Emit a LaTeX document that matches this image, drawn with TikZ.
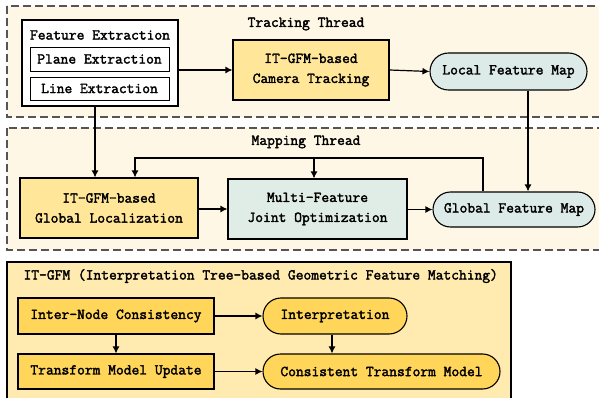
\documentclass[tikz,border=0pt]{standalone}
\usepackage{fontspec}
\usetikzlibrary{arrows.meta,shapes.misc,calc}
\newfontfamily\dfont[FakeBold=2.2]{Latin Modern Mono}
\definecolor{threadbg}{HTML}{FFF7E6}
\definecolor{gfmbg}{HTML}{FFEAB0}
\definecolor{lightgold}{HTML}{FFE699}
\definecolor{gold}{HTML}{FFD55A}
\definecolor{mapblue}{HTML}{DDEBE8}
\definecolor{optgreen}{HTML}{E0ECE6}
\definecolor{dashgray}{HTML}{555555}
\tikzset{
  txt/.style={font=\dfont\fontsize{15.1}{20}\selectfont, align=center, text=black},
  box/.style={txt, draw=black, line width=1.1pt, rectangle, inner sep=0pt},
  pill/.style={txt, draw=black, line width=1.1pt, rounded rectangle, inner sep=0pt},
  arr/.style={line width=1.2pt, -{Latex[length=7pt,width=7pt]}},
  thread/.style={draw=dashgray, line width=1.1pt, dash pattern=on 8pt off 4pt, fill=threadbg}
}
\begin{document}
\begin{tikzpicture}[x=1pt,y=-1pt]
\useasboundingbox (0,0) rectangle (599,398);
\begin{scope}
\clip (0,0) rectangle (599,398);
\path[thread] (7,6) rectangle (610,117);
\path[thread] (7,128) rectangle (610,250);
\path[draw=black, line width=1.1pt, fill=gfmbg] (7,262) rectangle (511,410);
\end{scope}

\node[txt] (tt) at (306,24) {Tracking Thread};
\node[txt] (mt) at (306,142) {Mapping Thread};
\node[txt, anchor=west] (gt) at (20,276) {IT-GFM (Interpretation Tree-based Geometric Feature Matching)};

% Feature extraction
\node[box, fill=white, minimum width=156pt, minimum height=86pt] (fe) at (100,63) {};
\node[txt] (fet) at (100,35) {Feature Extraction};
\node[box, fill=white, minimum width=139pt, minimum height=24pt, line width=0.8pt] (pe) at (99.5,59) {Plane Extraction};
\node[box, fill=white, minimum width=139pt, minimum height=23pt, line width=0.8pt] (le) at (99.5,88.5) {Line Extraction};

\node[box, fill=lightgold, minimum width=156pt, minimum height=60pt] (ct) at (311,70) {IT-GFM-based\\Camera Tracking};
\node[pill, fill=mapblue, minimum width=157pt, minimum height=37pt] (lfm) at (508.5,71.5) {Local Feature Map};

\node[box, fill=lightgold, minimum width=178pt, minimum height=60pt] (gl) at (109,208) {IT-GFM-based\\Global Localization};
\node[box, fill=optgreen, minimum width=179pt, minimum height=60pt] (mf) at (317.5,209) {Multi-Feature\\Joint Optimization};
\node[pill, fill=mapblue, minimum width=162pt, minimum height=35pt] (gfm) at (514,209.5) {Global Feature Map};

\node[box, fill=gold, minimum width=196pt, minimum height=36pt] (inc) at (116,316) {Inter-Node Consistency};
\node[box, fill=gold, minimum width=196pt, minimum height=35pt] (tmu) at (116,371.5) {Transform Model Update};
\node[pill, fill=gold, minimum width=144pt, minimum height=36pt] (int) at (335,316) {Interpretation};
\node[pill, fill=gold, minimum width=237pt, minimum height=35pt] (ctm) at (381.5,371.5) {Consistent Transform Model};

% connectors
\draw[arr] (fe.east |- ct.west) -- (ct.west);
\draw[arr] (ct.east) -- (lfm.west);
\draw[arr] ([xshift=-5pt]fe.south) -- ([xshift=-5pt]fe.south |- gl.north);
\draw[arr] ([xshift=19.5pt]lfm.south) -- ([xshift=19.5pt]lfm.south |- gfm.north);
\draw[arr] (gl.east |- mf.west) -- (mf.west);
\draw[arr] (mf.east |- gfm.west) -- (gfm.west);
\coordinate (fbtop) at (0,158);
\draw[arr] ([xshift=-31pt]gfm.north) |- ([xshift=26pt]gl.north |- fbtop) -- ([xshift=26pt]gl.north);
\draw[arr] ([xshift=-3.5pt]mf.north |- fbtop) -- ([xshift=-3.5pt]mf.north);

\draw[arr] (inc.east) -- (int.west);
\draw[arr] (tmu.east) -- (ctm.west);
\draw[arr] (inc.south) -- (tmu.north);
\draw[arr] ([xshift=-3pt]int.south) -- ([xshift=-3pt]int.south |- ctm.north);
\end{tikzpicture}
\end{document}
